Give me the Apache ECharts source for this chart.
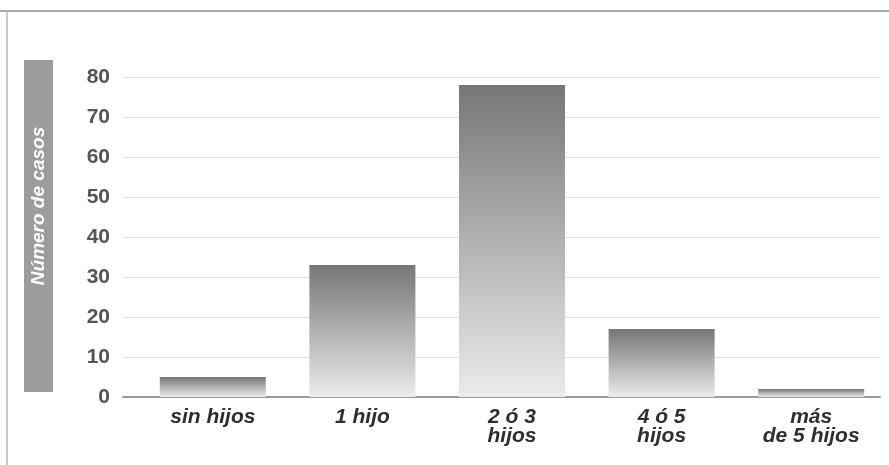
<!DOCTYPE html>
<html>
<head>
<meta charset="utf-8">
<style>
  html, body { margin: 0; padding: 0; background: #ffffff; }
  #chart { width: 889px; height: 465px; }
</style>
<script src="https://cdn.jsdelivr.net/npm/echarts@6/dist/echarts.min.js"></script>
</head>
<body>
<div id="chart"></div>
<script>
// Number of children per case
const categories = ['sin hijos', '1 hijo', '2 ó 3\nhijos', '4 ó 5\nhijos', 'más\nde 5 hijos'];
const casos = [5, 33, 78, 17, 2];
const yTicks = [0, 10, 20, 30, 40, 50, 60, 70, 80];
const yAxisTitle = 'Número de casos';

const FONT = '"Liberation Sans", Arial, sans-serif';

const chart = echarts.init(document.getElementById('chart'), null, { renderer: 'canvas' });

const barGradient = new echarts.graphic.LinearGradient(0, 0, 0, 1, [
  { offset: 0, color: '#767676' },
  { offset: 1, color: '#ebebeb' }
]);

chart.setOption({
  animation: false,
  backgroundColor: '#ffffff',
  grid: [
    // value scale with gridlines
    { left: 123, right: 9, top: 77, bottom: 68 },
    // bar band
    { left: 138, width: 748, top: 77, bottom: 68 }
  ],
  xAxis: [
    {
      gridIndex: 0, type: 'value', min: 0, max: 1,
      axisLine: { show: true, lineStyle: { color: '#9a9a9a', width: 2 } },
      axisTick: { show: false }, axisLabel: { show: false }, splitLine: { show: false }
    },
    {
      gridIndex: 1, type: 'category', data: categories,
      axisLine: { show: false }, axisTick: { show: false },
      axisLabel: {
        margin: 11,
        color: '#2e2e2e',
        fontFamily: FONT,
        fontSize: 21,
        fontWeight: 'bold',
        fontStyle: 'italic',
        lineHeight: 19,
        align: 'center'
      }
    }
  ],
  yAxis: [
    {
      gridIndex: 0, type: 'value', min: yTicks[0], max: yTicks[yTicks.length - 1], interval: 10,
      axisLine: { show: false }, axisTick: { show: false },
      axisLabel: {
        margin: 13, color: '#555555', fontFamily: FONT, fontSize: 21, fontWeight: 'bold'
      },
      splitLine: { show: true, lineStyle: { color: '#dcdcdc', width: 1 } }
    },
    {
      gridIndex: 1, type: 'value', min: yTicks[0], max: yTicks[yTicks.length - 1],
      show: false
    }
  ],
  series: [
    {
      type: 'bar',
      xAxisIndex: 1, yAxisIndex: 1,
      data: casos,
      barWidth: 106,
      itemStyle: { color: barGradient }
    }
  ],
  graphic: [
    // frame lines
    { type: 'line', shape: { x1: 0, y1: 11, x2: 889, y2: 11 }, style: { stroke: '#a8a8a8', lineWidth: 2 } },
    { type: 'line', shape: { x1: 7, y1: 11, x2: 7, y2: 465 }, style: { stroke: '#b8b8b8', lineWidth: 1.5 } },
    // y-axis title panel
    { type: 'rect', shape: { x: 24, y: 60, width: 29, height: 332 }, style: { fill: '#9c9c9c' } },
    {
      type: 'text',
      x: 39, y: 206,
      rotation: Math.PI / 2,
      style: {
        text: yAxisTitle,
        fill: '#ffffff',
        font: 'italic bold 19px ' + FONT,
        align: 'center',
        verticalAlign: 'middle'
      }
    }
  ]
});
</script>
</body>
</html>
